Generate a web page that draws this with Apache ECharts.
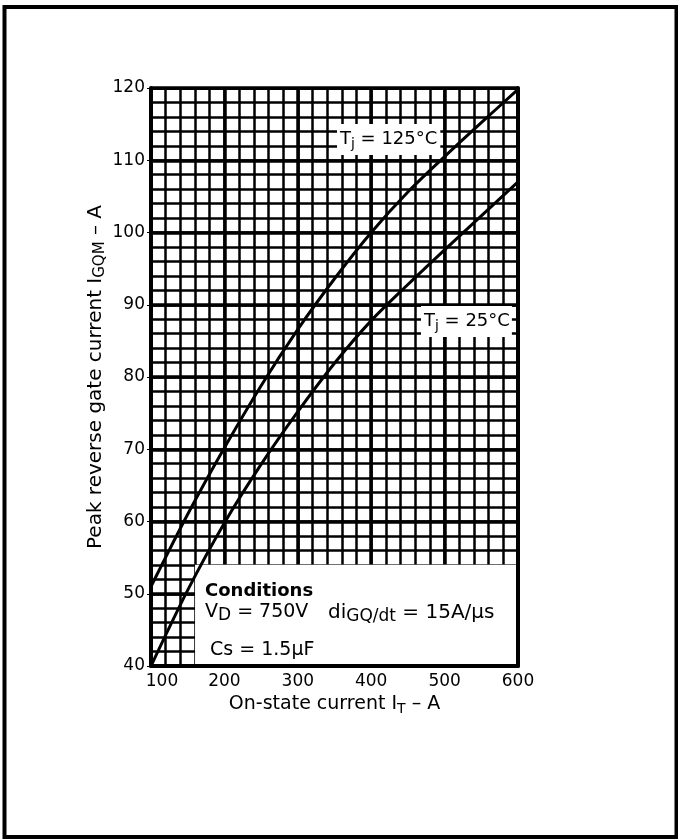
<!DOCTYPE html>
<html>
<head>
<meta charset="utf-8">
<script src="https://cdn.jsdelivr.net/npm/echarts@6/dist/echarts.min.js"></script>
<style>
html,body{margin:0;padding:0;background:#fff;}
#chart{width:678px;height:839px;}
</style>
</head>
<body>
<div id="chart"></div>
<script>
// ---- data ----
const xTicks = [100, 200, 300, 400, 500, 600];
const yTicks = [40, 50, 60, 70, 80, 90, 100, 110, 120];
const onStateCurrent = [100, 150, 200, 250, 300, 350, 400, 450, 500, 550, 600];
const gate125 = [51, 61, 70.2, 78.8, 86.6, 93.6, 100, 105.6, 110.5, 115.2, 119.8];
const gate25 = [40, 50.5, 59.8, 67.9, 75.2, 81.9, 87.8, 92.8, 97.6, 102.3, 107];
const conditionsBox = [[160, 40], [600, 54]];

const FONT = '"DejaVu Sans", "Liberation Sans", sans-serif';
const chart = echarts.init(document.getElementById('chart'), null, {renderer: 'canvas'});

function pairs(xs, ys) { return xs.map((x, i) => [x, ys[i]]); }

const gridBox = {left: 151, top: 88, width: 367, height: 578};
const subStyle = (fs, pad) => ({fontSize: fs, fontFamily: FONT, color: '#000', fill: '#000', padding: [pad, 0, 0, 0]});

const option = {
  backgroundColor: '#fff',
  animation: false,
  grid: Object.assign({containLabel: false}, gridBox),
  xAxis: [
    {type: 'value', min: 100, max: 600, interval: 20, z: 0,
     axisLine: {show: false}, axisTick: {show: false}, axisLabel: {show: false},
     splitLine: {show: true, lineStyle: {color: '#000', width: 2.5}}},
    {type: 'value', min: 100, max: 600, interval: 100, z: 0,
     axisLine: {show: false}, axisTick: {show: false}, axisLabel: {show: false},
     splitLine: {show: true, lineStyle: {color: '#000', width: 3.5}}},
    {type: 'value', min: 100, max: 600, interval: 100, z: 10, position: 'bottom',
     axisLine: {show: true, onZero: false, lineStyle: {color: '#000', width: 4}},
     axisTick: {show: false},
     axisLabel: {show: true, color: '#000', fontSize: 17, fontFamily: FONT, margin: 7,
       formatter: v => xTicks.indexOf(v) < 0 ? '' : (v === xTicks[0] ? '{first|' + v + '}' : String(v)),
       rich: {first: {fontSize: 17, fontFamily: FONT, color: '#000', padding: [0, 0, 0, 22]}}},
     splitLine: {show: false},
     name: 'On-state current I{sub|T} – A', nameLocation: 'middle', nameGap: 25,
     nameTextStyle: {color: '#000', fontSize: 19, fontFamily: FONT, rich: {sub: subStyle(14, 9)}}},
    {type: 'value', min: 100, max: 600, interval: 100, z: 10, position: 'top',
     axisLine: {show: true, onZero: false, lineStyle: {color: '#000', width: 3}},
     axisTick: {show: false}, axisLabel: {show: false}, splitLine: {show: false}}
  ],
  yAxis: [
    {type: 'value', min: 40, max: 120, interval: 2, z: 0,
     axisLine: {show: false}, axisTick: {show: false}, axisLabel: {show: false},
     splitLine: {show: true, lineStyle: {color: '#000', width: 2.5}}},
    {type: 'value', min: 40, max: 120, interval: 10, z: 0,
     axisLine: {show: false}, axisTick: {show: false}, axisLabel: {show: false},
     splitLine: {show: true, lineStyle: {color: '#000', width: 3.5}}},
    {type: 'value', min: 40, max: 120, interval: 10, z: 10, position: 'left',
     axisLine: {show: true, onZero: false, lineStyle: {color: '#000', width: 4}},
     axisTick: {show: true, length: 4, lineStyle: {color: '#000', width: 1}},
     axisLabel: {show: true, color: '#000', fontSize: 17, fontFamily: FONT, margin: 6,
       formatter: v => yTicks.indexOf(v) >= 0 ? String(v) : ''},
     splitLine: {show: false},
     name: 'Peak reverse gate current I{sub|GQM} – A', nameLocation: 'middle', nameGap: 43,
     nameMoveOverlap: false,
     nameTextStyle: {color: '#000', fontSize: 20, fontFamily: FONT, rich: {sub: subStyle(15, 9)}}},
    {type: 'value', min: 40, max: 120, interval: 10, z: 10, position: 'right',
     axisLine: {show: true, onZero: false, lineStyle: {color: '#000', width: 4}},
     axisTick: {show: false}, axisLabel: {show: false}, splitLine: {show: false}}
  ],
  series: [
    {type: 'line', xAxisIndex: 0, yAxisIndex: 0, data: [], z: 3, silent: true,
     markArea: {silent: true, itemStyle: {color: '#fff', borderWidth: 0},
       data: [[{coord: conditionsBox[0]}, {coord: conditionsBox[1]}]]}},
    {name: 'Tj = 125°C', type: 'line', xAxisIndex: 0, yAxisIndex: 0, z: 5,
     smooth: 0.3, showSymbol: false, data: pairs(onStateCurrent, gate125),
     lineStyle: {color: '#000', width: 3}},
    {name: 'Tj = 25°C', type: 'line', xAxisIndex: 0, yAxisIndex: 0, z: 5,
     smooth: 0.3, showSymbol: false, data: pairs(onStateCurrent, gate25),
     lineStyle: {color: '#000', width: 3}}
  ],
  graphic: [
    {type: 'rect', z: 100, silent: true,
     shape: {x: 4.5, y: 7, width: 672, height: 830},
     style: {fill: null, stroke: '#000', lineWidth: 4}},
    {type: 'text', z: 100, left: 337, top: 124,
     style: {text: 'T{sub|j} = 125°C', fill: '#000', font: '18px ' + FONT,
       backgroundColor: '#fff', padding: [4, 3, 4, 3], rich: {sub: subStyle(14, 9)}}},
    {type: 'text', z: 100, left: 421, top: 306,
     style: {text: 'T{sub|j} = 25°C', fill: '#000', font: '18px ' + FONT,
       backgroundColor: '#fff', padding: [4, 2, 4, 3], rich: {sub: subStyle(14, 9)}}},
    {type: 'text', z: 100, left: 205, top: 582,
     style: {text: 'Conditions', fill: '#000', font: 'bold 18px ' + FONT}},
    {type: 'text', z: 100, left: 205, top: 603,
     style: {text: 'V{sub|D} = 750V', fill: '#000', font: '19px ' + FONT, rich: {sub: subStyle(17, 7)}}},
    {type: 'text', z: 100, left: 328, top: 603,
     style: {text: 'di{sub|GQ/dt} = 15A/μs', fill: '#000', font: '20px ' + FONT, rich: {sub: subStyle(17, 7)}}},
    {type: 'text', z: 100, left: 210, top: 641,
     style: {text: 'Cs = 1.5μF', fill: '#000', font: '19px ' + FONT}}
  ]
};
chart.setOption(option);
</script>
</body>
</html>
